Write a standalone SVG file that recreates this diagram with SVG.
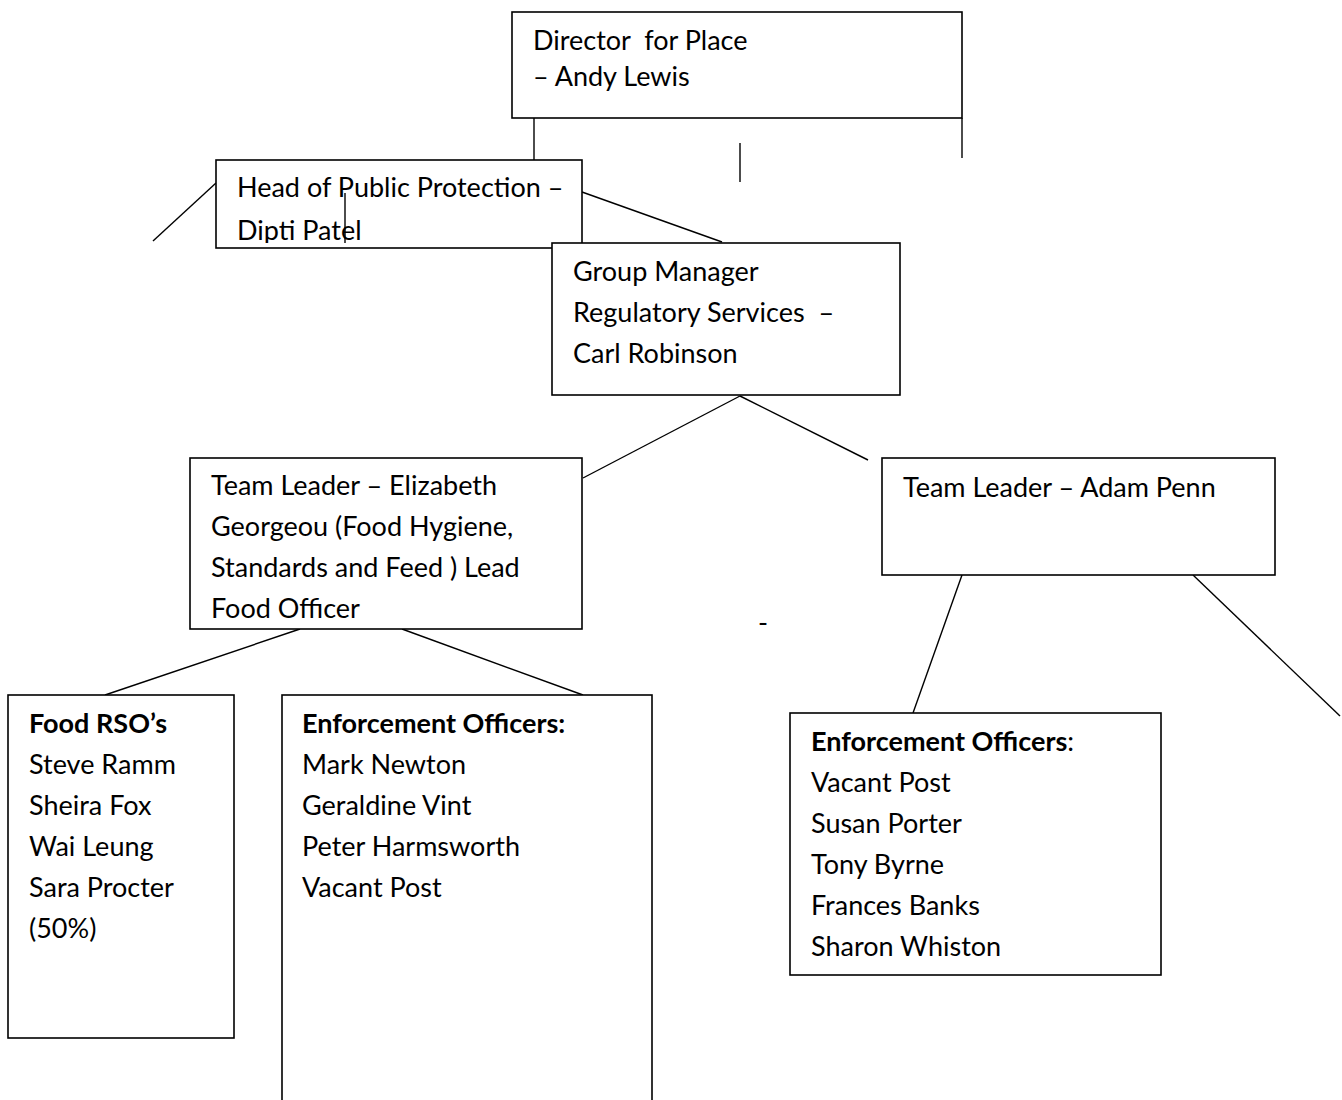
<svg xmlns="http://www.w3.org/2000/svg" width="1342" height="1100" viewBox="0 0 1342 1100">
<style>
.box{fill:#fff;stroke:#000;stroke-width:1.6}
.ln{stroke:#000;stroke-width:1.4;fill:none}
text{font-family:Lato,"Open Sans",sans-serif;font-size:27px;fill:#000;white-space:pre}
.b{font-weight:bold}
</style>
<defs>
<clipPath id="clipHead"><rect x="216" y="160" width="366" height="83"/></clipPath>
</defs>
<g id="connectors">
<line class="ln" x1="962" y1="118" x2="962" y2="158"/>
<line class="ln" x1="534" y1="118" x2="534" y2="160"/>
<line class="ln" x1="740" y1="143" x2="740" y2="182"/>
<line class="ln" x1="216" y1="183" x2="153" y2="241"/>
<line class="ln" x1="582" y1="192" x2="722" y2="242"/>
<line class="ln" x1="740" y1="396" x2="583" y2="478"/>
<line class="ln" x1="740" y1="396" x2="868" y2="460"/>
<line class="ln" x1="300" y1="629" x2="105" y2="695"/>
<line class="ln" x1="402" y1="629" x2="583" y2="695"/>
<line class="ln" x1="962" y1="575" x2="913" y2="713"/>
<line class="ln" x1="1193" y1="575" x2="1340" y2="716"/>
</g>
<g id="director">
<rect class="box" x="512" y="12" width="450" height="106"/>
<text x="533" y="50" xml:space="preserve">Director  for Place</text>
<text x="533" y="86">– Andy Lewis</text>
</g>
<g id="head">
<rect class="box" x="216" y="160" width="366" height="88"/>
<g clip-path="url(#clipHead)">
<text x="237" y="197">Head of Public Protection –</text>
<text x="237" y="240">Dipti Patel</text>
</g>
<line class="ln" x1="345" y1="193" x2="345" y2="243"/>
</g>
<g id="group-manager">
<rect class="box" x="552" y="243" width="348" height="152"/>
<text x="573" y="281">Group Manager</text>
<text x="573" y="322" xml:space="preserve">Regulatory Services  –</text>
<text x="573" y="363">Carl Robinson</text>
</g>
<g id="team-leader-elizabeth">
<rect class="box" x="190" y="458" width="392" height="171"/>
<text x="211" y="495">Team Leader – Elizabeth</text>
<text x="211" y="536">Georgeou (Food Hygiene,</text>
<text x="211" y="577">Standards and Feed ) Lead</text>
<text x="211" y="618">Food Officer</text>
</g>
<g id="team-leader-adam">
<rect class="box" x="882" y="458" width="393" height="117"/>
<text x="903" y="497">Team Leader – Adam Penn</text>
</g>
<g id="dash">
<text x="758" y="632">-</text>
</g>
<g id="food-rso">
<rect class="box" x="8" y="695" width="226" height="343"/>
<text x="29" y="733" class="b">Food RSO’s</text>
<text x="29" y="774">Steve Ramm</text>
<text x="29" y="815">Sheira Fox</text>
<text x="29" y="856">Wai Leung</text>
<text x="29" y="897">Sara Procter</text>
<text x="29" y="938">(50%)</text>
</g>
<g id="enforcement-1">
<rect class="box" x="282" y="695" width="370" height="420"/>
<text x="302" y="733" class="b">Enforcement Officers:</text>
<text x="302" y="774">Mark Newton</text>
<text x="302" y="815">Geraldine Vint</text>
<text x="302" y="856">Peter Harmsworth</text>
<text x="302" y="897">Vacant Post</text>
</g>
<g id="enforcement-2">
<rect class="box" x="790" y="713" width="371" height="262"/>
<text x="811" y="751"><tspan class="b">Enforcement Officers</tspan>:</text>
<text x="811" y="792">Vacant Post</text>
<text x="811" y="833">Susan Porter</text>
<text x="811" y="874">Tony Byrne</text>
<text x="811" y="915">Frances Banks</text>
<text x="811" y="956">Sharon Whiston</text>
</g>
</svg>
